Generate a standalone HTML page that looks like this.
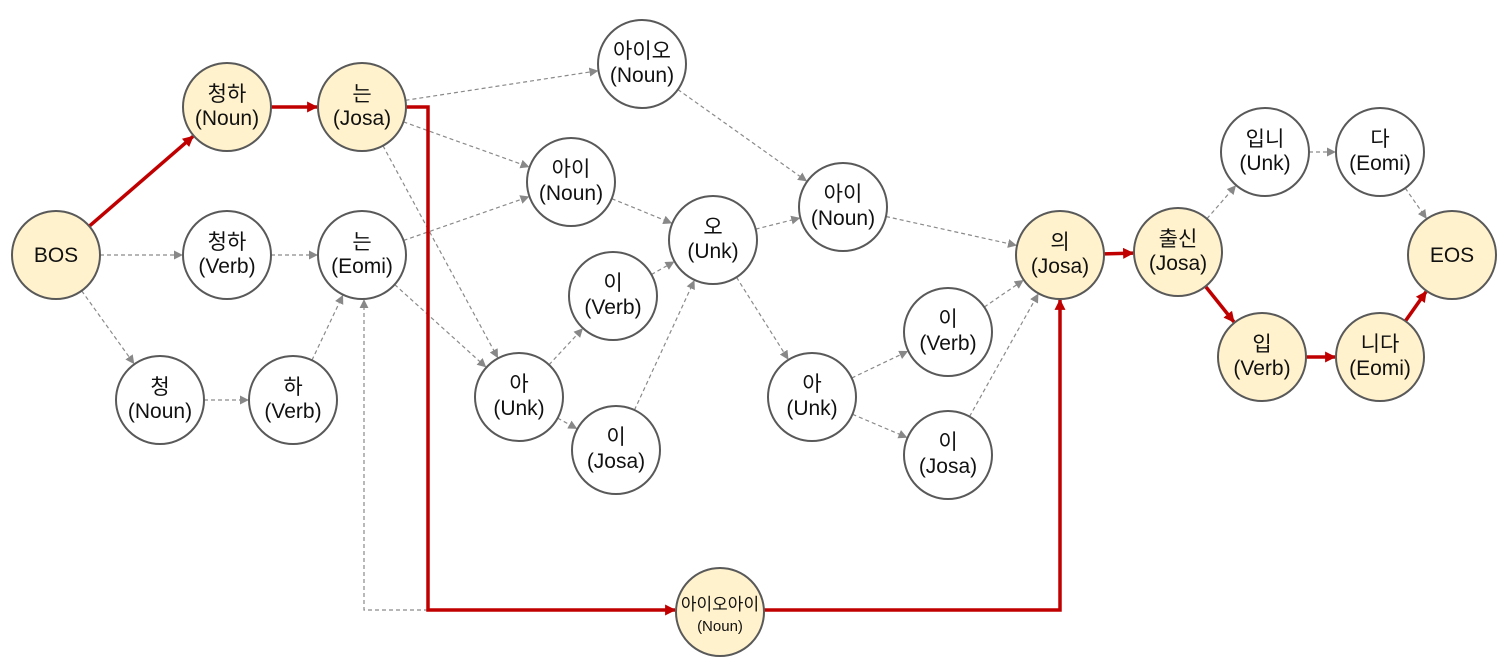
<!DOCTYPE html>
<html><head><meta charset="utf-8"><style>
html,body{margin:0;padding:0;background:#fff;}
svg{display:block}
text{font-family:"Liberation Sans","Noto Sans CJK KR",sans-serif;font-size:21px;fill:#111;text-anchor:middle}
</style></head><body>
<svg id="s" width="1510" height="665" viewBox="0 0 1510 665" xmlns="http://www.w3.org/2000/svg">
<defs>
<marker id="ag" viewBox="0 0 10 10" refX="9" refY="5" markerWidth="9" markerHeight="9" markerUnits="userSpaceOnUse" orient="auto"><path d="M0,0L10,5L0,10z" fill="#888"/></marker>
<marker id="ar" viewBox="0 0 10 10" refX="9" refY="5" markerWidth="11" markerHeight="11" markerUnits="userSpaceOnUse" orient="auto"><path d="M0,0L10,5L0,10z" fill="#C00000"/></marker>
</defs>
<g id="edges"></g>
<g id="nodes"></g>
</svg>
<script>
var N={
BOS:[56,255,1,"BOS",""],
cn:[227,107,1,"청하","(Noun)"],
nj:[362,107,1,"는","(Josa)"],
cv:[227,255,0,"청하","(Verb)"],
ne:[362,255,0,"는","(Eomi)"],
c:[160,400,0,"청","(Noun)"],
h:[293,400,0,"하","(Verb)"],
aio:[642,64,0,"아이오","(Noun)"],
ai:[571,182,0,"아이","(Noun)"],
o:[713,240,0,"오","(Unk)"],
iv:[613,296,0,"이","(Verb)"],
a:[519,397,0,"아","(Unk)"],
ij:[616,450,0,"이","(Josa)"],
ai2:[843,207,0,"아이","(Noun)"],
a2:[812,397,0,"아","(Unk)"],
iv2:[948,332,0,"이","(Verb)"],
ij2:[948,455,0,"이","(Josa)"],
ui:[1060,255,1,"의","(Josa)"],
cs:[1178,252,1,"출신","(Josa)"],
ibn:[1265,152,0,"입니","(Unk)"],
da:[1380,152,0,"다","(Eomi)"],
EOS:[1452,255,1,"EOS",""],
ip:[1262,357,1,"입","(Verb)"],
nd:[1380,357,1,"니다","(Eomi)"],
big:[720,612,1,"아이오아이","(Noun)"]
};
var R=44;
var D=[["BOS","cv"],["BOS","c"],["c","h"],["h","ne"],["cv","ne"],["nj","aio"],["nj","ai"],["nj","a"],["ne","ai"],["ne","a"],
["a","iv"],["a","ij"],["iv","o"],["ij","o"],["ai","o"],["o","ai2"],["aio","ai2"],["o","a2"],["a2","iv2"],["a2","ij2"],["iv2","ui"],["ij2","ui"],["ai2","ui"],["cs","ibn"],["ibn","da"],["da","EOS"]];
var Rd=[["BOS","cn"],["cn","nj"],["ui","cs"],["cs","ip"],["ip","nd"],["nd","EOS"]];
var ns="http://www.w3.org/2000/svg",E=document.getElementById("edges"),G=document.getElementById("nodes");
function ln(a,b,red){var A=N[a],B=N[b],dx=B[0]-A[0],dy=B[1]-A[1],l=Math.hypot(dx,dy),ux=dx/l,uy=dy/l;
var e=document.createElementNS(ns,"line");e.setAttribute("x1",A[0]+ux*R);e.setAttribute("y1",A[1]+uy*R);e.setAttribute("x2",B[0]-ux*(R+1));e.setAttribute("y2",B[1]-uy*(R+1));
if(red){e.setAttribute("stroke","#C00000");e.setAttribute("stroke-width","3.5");e.setAttribute("marker-end","url(#ar)");}
else{e.setAttribute("stroke","#8a8a8a");e.setAttribute("stroke-width","1.2");e.setAttribute("stroke-dasharray","4 3");e.setAttribute("marker-end","url(#ag)");}
E.appendChild(e);}
D.forEach(function(d){ln(d[0],d[1],0)});Rd.forEach(function(d){ln(d[0],d[1],1)});
function pl(pts,red){var p=document.createElementNS(ns,"polyline");p.setAttribute("points",pts);p.setAttribute("fill","none");
if(red){p.setAttribute("stroke","#C00000");p.setAttribute("stroke-width","3.5");p.setAttribute("marker-end","url(#ar)");}
else{p.setAttribute("stroke","#8a8a8a");p.setAttribute("stroke-width","1.2");p.setAttribute("stroke-dasharray","4 3");p.setAttribute("marker-end","url(#ag)");}
E.appendChild(p);}
pl("428,610 364,610 364,300",0);
pl("405,107 428,107 428,610 675,610",1);
pl("764,610 1060,610 1060,300",1);
for(var k in N){var n=N[k];var c=document.createElementNS(ns,"circle");c.setAttribute("cx",n[0]);c.setAttribute("cy",n[1]);c.setAttribute("r",R);
c.setAttribute("fill",n[2]?"#FFF2CC":"#fff");c.setAttribute("stroke","#595959");c.setAttribute("stroke-width","2");G.appendChild(c);
function t(s,y,fs){var x=document.createElementNS(ns,"text");x.setAttribute("x",n[0]);x.setAttribute("y",y);if(fs)x.setAttribute("style","font-size:"+fs+"px");x.textContent=s;G.appendChild(x);}
if(!n[4])t(n[3],n[1]+7);
else if(k=="big"){t(n[3],n[1]-2,17);t(n[4],n[1]+19,15);}
else{t(n[3],n[1]-6);t(n[4],n[1]+18);}}
</script>
</body></html>
